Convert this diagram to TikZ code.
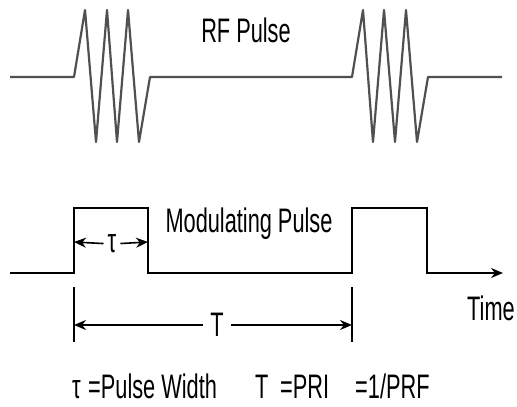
\documentclass[tikz,border=0pt]{standalone}
\usepackage{fontspec}
\setmainfont[FakeStretch=0.64]{Liberation Sans}
\usetikzlibrary{arrows.meta}
\definecolor{rfgray}{RGB}{80,80,80}
\tikzset{
  rfwave/.style={line width=2.2pt, color=rfgray, line join=round},
  modwave/.style={line width=2pt, color=black},
  extline/.style={line width=1.4pt, color=black},
  dimarrow/.style={-{Stealth[length=12pt,width=10pt]}, line width=1.6pt, color=black},
  lbl/.style={font=\fontsize{34}{38}\selectfont, inner sep=0pt},
}

\begin{document}
\begin{tikzpicture}[x=1pt, y=-1pt]
  \useasboundingbox (0,0) rectangle (517,407);

  % RF pulse train
  \draw[rfwave] (10,77) -- (74,77) -- (85,10) -- (96,142) -- (107,10) -- (117,142)
    -- (128,10) -- (139,142) -- (150,77) -- (352,77) -- (363,10) -- (373,142)
    -- (384,10) -- (395,142) -- (406,10) -- (417,142) -- (428,77) -- (502,77);
  \node[lbl, anchor=base] (rflbl) at (246,42) {RF Pulse};

  % Modulating pulse
  \coordinate (start) at (10,273);
  \coordinate (timeend) at (503,273);
  \draw[modwave] (start) -- (74,273) -- (74,208) -- (148,208) -- (148,273)
    -- (352,273) -- (352,208) -- (427,208) -- (427,273) -- (480,273);
  \draw[dimarrow, line width=2pt] (470,273) -- (timeend);
  \node[lbl, anchor=base] (modlbl) at (249,232) {Modulating Pulse};
  \node[lbl, anchor=base west] (timelbl) at (467,320) {Time};

  % Pulse width
  \coordinate (tauL) at (74,242);
  \coordinate (tauR) at (148,242);
  \node[lbl, inner sep=4pt] (tau) at (112,244) {τ};
  \draw[dimarrow] (tau) -- (tauL);
  \draw[dimarrow] (tau) -- (tauR);

  % Extension lines and period
  \coordinate (extAtop) at (74,287);
  \coordinate (extAbot) at (74,342);
  \coordinate (extBtop) at (352,287);
  \coordinate (extBbot) at (352,342);
  \draw[extline] (extAtop) -- (extAbot);
  \draw[extline] (extBtop) -- (extBbot);
  \coordinate (perL) at (74,325);
  \coordinate (perR) at (352,325);
  \node[lbl, inner sep=7pt] (per) at (217,325) {T};
  \draw[dimarrow] (per) -- (perL);
  \draw[dimarrow] (per) -- (perR);

  % Legend
  \node[lbl, anchor=base west] (leg1) at (72,398) {τ};
  \node[lbl, anchor=base west] (leg2) at (88,398) {=Pulse Width};
  \node[lbl, anchor=base west] (leg3) at (255,398) {T};
  \node[lbl, anchor=base west] (leg4) at (280,398) {=PRI};
  \node[lbl, anchor=base west] (leg5) at (355,398) {=1/PRF};
\end{tikzpicture}
\end{document}
